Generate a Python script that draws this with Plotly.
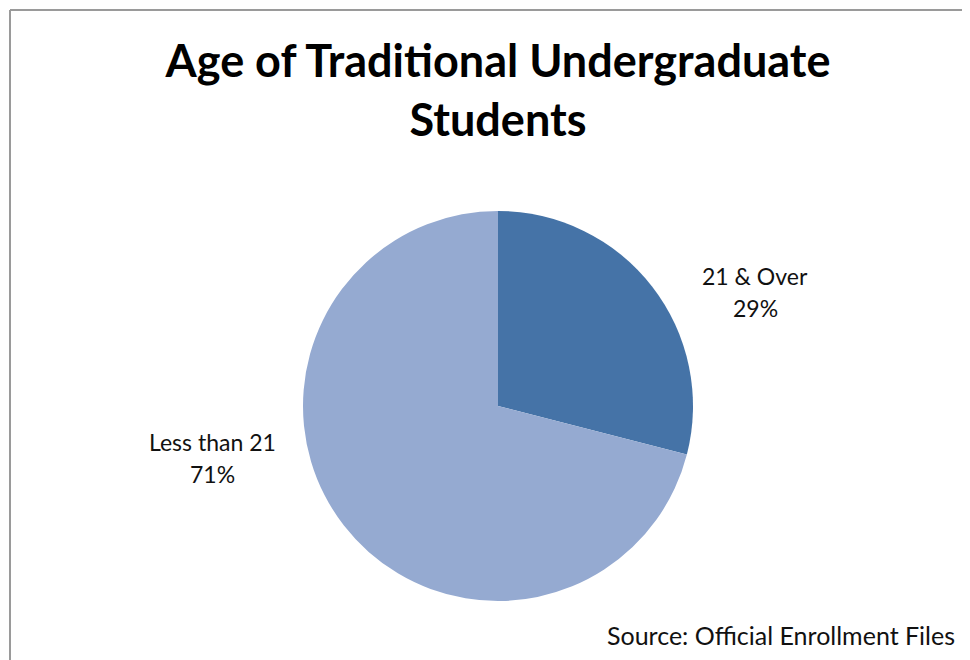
import plotly.graph_objects as go

labels = ["21 & Over", "Less than 21"]
values = [29, 71]
colors = ["#4573A7", "#95AAD1"]
label_pos = [(755, 292), (212, 458)]  # screen pixel centres of outside labels

W, H = 970, 660
OFF = 8  # page body margin offset
cx, cy, r = 498, 406, 195


def px(x):
    return (x - OFF) / W


def py(y):
    return 1 - (y - OFF) / H


fig = go.Figure(go.Pie(
    labels=labels, values=values, sort=False, direction="clockwise", rotation=0,
    marker=dict(colors=colors, line=dict(width=0)),
    textinfo="none", hoverinfo="label+percent", showlegend=False,
    domain=dict(x=[px(cx - r), px(cx + r)], y=[py(cy + r), py(cy - r)]),
))

font_lbl = dict(family="Lato", size=23, color="#111")
total = sum(values)
for lab, val, (lx, ly) in zip(labels, values, label_pos):
    for txt, dy in ((lab, -16), (f"{round(100 * val / total)}%", 16)):
        fig.add_annotation(
            x=px(lx), y=py(ly + dy), xref="paper", yref="paper", showarrow=False,
            xanchor="center", yanchor="middle", text=txt, font=font_lbl,
        )

fig.add_annotation(
    x=px(957), y=py(635), xref="paper", yref="paper", showarrow=False,
    xanchor="right", yanchor="middle", text="Source: Official Enrollment Files",
    font=dict(family="Lato", size=25, color="#111"),
)

border = dict(color="#9a9a9a", width=2)
fig.add_shape(type="line", xref="paper", yref="paper",
              x0=px(10), x1=1.05, y0=py(10), y1=py(10), line=border)
fig.add_shape(type="line", xref="paper", yref="paper",
              x0=px(10), x1=px(10), y0=py(10), y1=-0.05, line=border)

fig.update_layout(
    width=W, height=H, margin=dict(l=0, r=0, t=0, b=0),
    paper_bgcolor="white", plot_bgcolor="white",
    title=dict(text="<b>Age of Traditional Undergraduate<br>Students</b>",
               x=px(498), xanchor="center", y=1 - 69 / H, yanchor="top",
               font=dict(family="Lato", size=45, color="black")),
)

fig.write_html("out.html")
